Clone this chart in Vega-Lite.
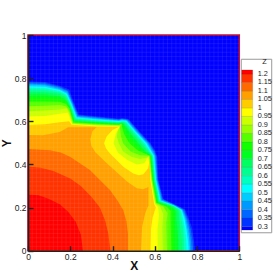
{"$schema":"https://vega.github.io/schema/vega-lite/v6.json","width":211.3,"height":215.7,"autosize":{"type":"none"},"padding":{"left":28,"top":35,"right":37.7,"bottom":21.3},"background":"white","view":{"fill":"#0000ff","stroke":"#c8102e","strokeWidth":1.5},"config":{"font":"Liberation Sans"},
"datasets":{"contour":[
{"z":0.3,"x":0,"y":0},{"z":0.3,"x":0,"y":0.785},{"z":0.3,"x":0.08,"y":0.782},{"z":0.3,"x":0.15,"y":0.765},{"z":0.3,"x":0.195,"y":0.747},{"z":0.3,"x":0.215,"y":0.69},{"z":0.3,"x":0.24,"y":0.632},{"z":0.3,"x":0.33,"y":0.622},{"z":0.3,"x":0.43,"y":0.612},{"z":0.3,"x":0.445,"y":0.615},{"z":0.3,"x":0.475,"y":0.61},{"z":0.3,"x":0.53,"y":0.55},{"z":0.3,"x":0.58,"y":0.498},{"z":0.3,"x":0.6,"y":0.467},{"z":0.3,"x":0.612,"y":0.436},{"z":0.3,"x":0.617,"y":0.328},{"z":0.3,"x":0.64,"y":0.24},{"z":0.3,"x":0.69,"y":0.217},{"z":0.3,"x":0.743,"y":0.192},{"z":0.3,"x":0.76,"y":0.15},{"z":0.3,"x":0.775,"y":0.11},{"z":0.3,"x":0.785,"y":0.05},{"z":0.3,"x":0.79,"y":0},
{"z":0.35,"x":0,"y":0},{"z":0.35,"x":0,"y":0.78},{"z":0.35,"x":0.08,"y":0.777},{"z":0.35,"x":0.15,"y":0.76},{"z":0.35,"x":0.19,"y":0.742},{"z":0.35,"x":0.212,"y":0.688},{"z":0.35,"x":0.238,"y":0.628},{"z":0.35,"x":0.33,"y":0.619},{"z":0.35,"x":0.43,"y":0.609},{"z":0.35,"x":0.445,"y":0.612},{"z":0.35,"x":0.473,"y":0.608},{"z":0.35,"x":0.525,"y":0.55},{"z":0.35,"x":0.575,"y":0.498},{"z":0.35,"x":0.598,"y":0.462},{"z":0.35,"x":0.608,"y":0.436},{"z":0.35,"x":0.614,"y":0.328},{"z":0.35,"x":0.637,"y":0.238},{"z":0.35,"x":0.69,"y":0.215},{"z":0.35,"x":0.738,"y":0.191},{"z":0.35,"x":0.755,"y":0.15},{"z":0.35,"x":0.77,"y":0.1},{"z":0.35,"x":0.778,"y":0.05},{"z":0.35,"x":0.782,"y":0},
{"z":0.4,"x":0,"y":0},{"z":0.4,"x":0,"y":0.775},{"z":0.4,"x":0.08,"y":0.772},{"z":0.4,"x":0.15,"y":0.755},{"z":0.4,"x":0.188,"y":0.738},{"z":0.4,"x":0.21,"y":0.686},{"z":0.4,"x":0.235,"y":0.625},{"z":0.4,"x":0.33,"y":0.615},{"z":0.4,"x":0.43,"y":0.606},{"z":0.4,"x":0.445,"y":0.61},{"z":0.4,"x":0.47,"y":0.606},{"z":0.4,"x":0.52,"y":0.55},{"z":0.4,"x":0.57,"y":0.498},{"z":0.4,"x":0.595,"y":0.46},{"z":0.4,"x":0.604,"y":0.436},{"z":0.4,"x":0.612,"y":0.328},{"z":0.4,"x":0.634,"y":0.236},{"z":0.4,"x":0.69,"y":0.213},{"z":0.4,"x":0.733,"y":0.19},{"z":0.4,"x":0.75,"y":0.15},{"z":0.4,"x":0.763,"y":0.1},{"z":0.4,"x":0.771,"y":0.05},{"z":0.4,"x":0.775,"y":0},
{"z":0.45,"x":0,"y":0},{"z":0.45,"x":0,"y":0.77},{"z":0.45,"x":0.08,"y":0.767},{"z":0.45,"x":0.15,"y":0.75},{"z":0.45,"x":0.186,"y":0.732},{"z":0.45,"x":0.208,"y":0.683},{"z":0.45,"x":0.233,"y":0.621},{"z":0.45,"x":0.33,"y":0.612},{"z":0.45,"x":0.43,"y":0.604},{"z":0.45,"x":0.445,"y":0.607},{"z":0.45,"x":0.468,"y":0.604},{"z":0.45,"x":0.515,"y":0.55},{"z":0.45,"x":0.565,"y":0.498},{"z":0.45,"x":0.59,"y":0.458},{"z":0.45,"x":0.6,"y":0.44},{"z":0.45,"x":0.609,"y":0.328},{"z":0.45,"x":0.631,"y":0.234},{"z":0.45,"x":0.69,"y":0.211},{"z":0.45,"x":0.73,"y":0.19},{"z":0.45,"x":0.745,"y":0.15},{"z":0.45,"x":0.756,"y":0.1},{"z":0.45,"x":0.764,"y":0.05},{"z":0.45,"x":0.768,"y":0},
{"z":0.5,"x":0,"y":0},{"z":0.5,"x":0,"y":0.762},{"z":0.5,"x":0.08,"y":0.76},{"z":0.5,"x":0.15,"y":0.745},{"z":0.5,"x":0.184,"y":0.728},{"z":0.5,"x":0.206,"y":0.68},{"z":0.5,"x":0.23,"y":0.617},{"z":0.5,"x":0.33,"y":0.608},{"z":0.5,"x":0.43,"y":0.601},{"z":0.5,"x":0.445,"y":0.604},{"z":0.5,"x":0.465,"y":0.602},{"z":0.5,"x":0.51,"y":0.55},{"z":0.5,"x":0.56,"y":0.498},{"z":0.5,"x":0.585,"y":0.458},{"z":0.5,"x":0.596,"y":0.44},{"z":0.5,"x":0.606,"y":0.328},{"z":0.5,"x":0.627,"y":0.233},{"z":0.5,"x":0.69,"y":0.209},{"z":0.5,"x":0.727,"y":0.189},{"z":0.5,"x":0.74,"y":0.15},{"z":0.5,"x":0.75,"y":0.1},{"z":0.5,"x":0.757,"y":0.05},{"z":0.5,"x":0.76,"y":0},
{"z":0.55,"x":0,"y":0},{"z":0.55,"x":0,"y":0.755},{"z":0.55,"x":0.08,"y":0.753},{"z":0.55,"x":0.15,"y":0.74},{"z":0.55,"x":0.182,"y":0.724},{"z":0.55,"x":0.204,"y":0.677},{"z":0.55,"x":0.228,"y":0.614},{"z":0.55,"x":0.33,"y":0.605},{"z":0.55,"x":0.43,"y":0.598},{"z":0.55,"x":0.445,"y":0.601},{"z":0.55,"x":0.462,"y":0.6},{"z":0.55,"x":0.505,"y":0.55},{"z":0.55,"x":0.553,"y":0.498},{"z":0.55,"x":0.58,"y":0.458},{"z":0.55,"x":0.592,"y":0.44},{"z":0.55,"x":0.603,"y":0.328},{"z":0.55,"x":0.624,"y":0.231},{"z":0.55,"x":0.69,"y":0.208},{"z":0.55,"x":0.724,"y":0.188},{"z":0.55,"x":0.733,"y":0.15},{"z":0.55,"x":0.743,"y":0.1},{"z":0.55,"x":0.748,"y":0.05},{"z":0.55,"x":0.75,"y":0},
{"z":0.6,"x":0,"y":0},{"z":0.6,"x":0,"y":0.747},{"z":0.6,"x":0.08,"y":0.745},{"z":0.6,"x":0.15,"y":0.733},{"z":0.6,"x":0.18,"y":0.72},{"z":0.6,"x":0.202,"y":0.674},{"z":0.6,"x":0.225,"y":0.61},{"z":0.6,"x":0.33,"y":0.601},{"z":0.6,"x":0.43,"y":0.595},{"z":0.6,"x":0.445,"y":0.598},{"z":0.6,"x":0.46,"y":0.597},{"z":0.6,"x":0.5,"y":0.55},{"z":0.6,"x":0.545,"y":0.498},{"z":0.6,"x":0.575,"y":0.458},{"z":0.6,"x":0.59,"y":0.44},{"z":0.6,"x":0.601,"y":0.328},{"z":0.6,"x":0.621,"y":0.23},{"z":0.6,"x":0.69,"y":0.207},{"z":0.6,"x":0.72,"y":0.187},{"z":0.6,"x":0.725,"y":0.15},{"z":0.6,"x":0.734,"y":0.1},{"z":0.6,"x":0.738,"y":0.05},{"z":0.6,"x":0.74,"y":0},
{"z":0.65,"x":0,"y":0},{"z":0.65,"x":0,"y":0.737},{"z":0.65,"x":0.08,"y":0.735},{"z":0.65,"x":0.15,"y":0.726},{"z":0.65,"x":0.18,"y":0.71},{"z":0.65,"x":0.2,"y":0.67},{"z":0.65,"x":0.223,"y":0.607},{"z":0.65,"x":0.33,"y":0.598},{"z":0.65,"x":0.43,"y":0.592},{"z":0.65,"x":0.445,"y":0.595},{"z":0.65,"x":0.455,"y":0.592},{"z":0.65,"x":0.49,"y":0.55},{"z":0.65,"x":0.535,"y":0.498},{"z":0.65,"x":0.57,"y":0.458},{"z":0.65,"x":0.587,"y":0.44},{"z":0.65,"x":0.598,"y":0.328},{"z":0.65,"x":0.618,"y":0.228},{"z":0.65,"x":0.69,"y":0.205},{"z":0.65,"x":0.712,"y":0.185},{"z":0.65,"x":0.715,"y":0.15},{"z":0.65,"x":0.722,"y":0.1},{"z":0.65,"x":0.727,"y":0.05},{"z":0.65,"x":0.728,"y":0},
{"z":0.7,"x":0,"y":0},{"z":0.7,"x":0,"y":0.724},{"z":0.7,"x":0.08,"y":0.724},{"z":0.7,"x":0.15,"y":0.716},{"z":0.7,"x":0.18,"y":0.7},{"z":0.7,"x":0.198,"y":0.667},{"z":0.7,"x":0.22,"y":0.603},{"z":0.7,"x":0.33,"y":0.595},{"z":0.7,"x":0.43,"y":0.59},{"z":0.7,"x":0.445,"y":0.592},{"z":0.7,"x":0.455,"y":0.585},{"z":0.7,"x":0.48,"y":0.55},{"z":0.7,"x":0.522,"y":0.498},{"z":0.7,"x":0.555,"y":0.46},{"z":0.7,"x":0.584,"y":0.44},{"z":0.7,"x":0.595,"y":0.328},{"z":0.7,"x":0.615,"y":0.226},{"z":0.7,"x":0.68,"y":0.204},{"z":0.7,"x":0.702,"y":0.183},{"z":0.7,"x":0.702,"y":0.15},{"z":0.7,"x":0.707,"y":0.1},{"z":0.7,"x":0.711,"y":0.05},{"z":0.7,"x":0.712,"y":0},
{"z":0.75,"x":0,"y":0},{"z":0.75,"x":0,"y":0.71},{"z":0.75,"x":0.08,"y":0.71},{"z":0.75,"x":0.15,"y":0.705},{"z":0.75,"x":0.18,"y":0.69},{"z":0.75,"x":0.197,"y":0.664},{"z":0.75,"x":0.218,"y":0.599},{"z":0.75,"x":0.33,"y":0.591},{"z":0.75,"x":0.43,"y":0.587},{"z":0.75,"x":0.445,"y":0.59},{"z":0.75,"x":0.45,"y":0.58},{"z":0.75,"x":0.47,"y":0.54},{"z":0.75,"x":0.505,"y":0.498},{"z":0.75,"x":0.54,"y":0.465},{"z":0.75,"x":0.58,"y":0.44},{"z":0.75,"x":0.592,"y":0.328},{"z":0.75,"x":0.612,"y":0.224},{"z":0.75,"x":0.67,"y":0.203},{"z":0.75,"x":0.69,"y":0.18},{"z":0.75,"x":0.69,"y":0.15},{"z":0.75,"x":0.692,"y":0.1},{"z":0.75,"x":0.694,"y":0.05},{"z":0.75,"x":0.695,"y":0},
{"z":0.8,"x":0,"y":0},{"z":0.8,"x":0,"y":0.692},{"z":0.8,"x":0.08,"y":0.692},{"z":0.8,"x":0.15,"y":0.69},{"z":0.8,"x":0.18,"y":0.68},{"z":0.8,"x":0.196,"y":0.66},{"z":0.8,"x":0.215,"y":0.596},{"z":0.8,"x":0.33,"y":0.588},{"z":0.8,"x":0.43,"y":0.584},{"z":0.8,"x":0.445,"y":0.588},{"z":0.8,"x":0.445,"y":0.575},{"z":0.8,"x":0.455,"y":0.54},{"z":0.8,"x":0.48,"y":0.498},{"z":0.8,"x":0.52,"y":0.465},{"z":0.8,"x":0.577,"y":0.44},{"z":0.8,"x":0.589,"y":0.328},{"z":0.8,"x":0.608,"y":0.222},{"z":0.8,"x":0.655,"y":0.205},{"z":0.8,"x":0.675,"y":0.185},{"z":0.8,"x":0.675,"y":0.14},{"z":0.8,"x":0.676,"y":0.1},{"z":0.8,"x":0.678,"y":0},
{"z":0.85,"x":0,"y":0},{"z":0.85,"x":0,"y":0.67},{"z":0.85,"x":0.08,"y":0.672},{"z":0.85,"x":0.15,"y":0.675},{"z":0.85,"x":0.18,"y":0.67},{"z":0.85,"x":0.195,"y":0.65},{"z":0.85,"x":0.213,"y":0.592},{"z":0.85,"x":0.33,"y":0.585},{"z":0.85,"x":0.43,"y":0.582},{"z":0.85,"x":0.44,"y":0.586},{"z":0.85,"x":0.435,"y":0.57},{"z":0.85,"x":0.44,"y":0.53},{"z":0.85,"x":0.45,"y":0.498},{"z":0.85,"x":0.485,"y":0.46},{"z":0.85,"x":0.53,"y":0.442},{"z":0.85,"x":0.574,"y":0.44},{"z":0.85,"x":0.587,"y":0.328},{"z":0.85,"x":0.606,"y":0.221},{"z":0.85,"x":0.64,"y":0.205},{"z":0.85,"x":0.66,"y":0.175},{"z":0.85,"x":0.655,"y":0.13},{"z":0.85,"x":0.656,"y":0.08},{"z":0.85,"x":0.658,"y":0},
{"z":0.9,"x":0,"y":0},{"z":0.9,"x":0,"y":0.647},{"z":0.9,"x":0.08,"y":0.65},{"z":0.9,"x":0.15,"y":0.655},{"z":0.9,"x":0.183,"y":0.66},{"z":0.9,"x":0.195,"y":0.64},{"z":0.9,"x":0.211,"y":0.589},{"z":0.9,"x":0.33,"y":0.582},{"z":0.9,"x":0.435,"y":0.58},{"z":0.9,"x":0.425,"y":0.56},{"z":0.9,"x":0.42,"y":0.53},{"z":0.9,"x":0.43,"y":0.498},{"z":0.9,"x":0.45,"y":0.46},{"z":0.9,"x":0.49,"y":0.435},{"z":0.9,"x":0.53,"y":0.425},{"z":0.9,"x":0.56,"y":0.43},{"z":0.9,"x":0.572,"y":0.44},{"z":0.9,"x":0.584,"y":0.328},{"z":0.9,"x":0.603,"y":0.22},{"z":0.9,"x":0.625,"y":0.205},{"z":0.9,"x":0.64,"y":0.17},{"z":0.9,"x":0.636,"y":0.11},{"z":0.9,"x":0.637,"y":0.05},{"z":0.9,"x":0.638,"y":0},
{"z":0.95,"x":0,"y":0},{"z":0.95,"x":0,"y":0.622},{"z":0.95,"x":0.08,"y":0.625},{"z":0.95,"x":0.15,"y":0.635},{"z":0.95,"x":0.188,"y":0.64},{"z":0.95,"x":0.196,"y":0.625},{"z":0.95,"x":0.209,"y":0.586},{"z":0.95,"x":0.33,"y":0.579},{"z":0.95,"x":0.435,"y":0.577},{"z":0.95,"x":0.415,"y":0.54},{"z":0.95,"x":0.405,"y":0.498},{"z":0.95,"x":0.425,"y":0.455},{"z":0.95,"x":0.47,"y":0.42},{"z":0.95,"x":0.515,"y":0.4},{"z":0.95,"x":0.55,"y":0.405},{"z":0.95,"x":0.57,"y":0.435},{"z":0.95,"x":0.582,"y":0.328},{"z":0.95,"x":0.6,"y":0.218},{"z":0.95,"x":0.615,"y":0.203},{"z":0.95,"x":0.62,"y":0.165},{"z":0.95,"x":0.613,"y":0.1},{"z":0.95,"x":0.614,"y":0},
{"z":1,"x":0,"y":0},{"z":1,"x":0,"y":0.583},{"z":1,"x":0.08,"y":0.586},{"z":1,"x":0.15,"y":0.595},{"z":1,"x":0.195,"y":0.6},{"z":1,"x":0.206,"y":0.584},{"z":1,"x":0.33,"y":0.576},{"z":1,"x":0.43,"y":0.575},{"z":1,"x":0.4,"y":0.56},{"z":1,"x":0.372,"y":0.53},{"z":1,"x":0.36,"y":0.498},{"z":1,"x":0.37,"y":0.473},{"z":1,"x":0.388,"y":0.451},{"z":1,"x":0.451,"y":0.389},{"z":1,"x":0.498,"y":0.358},{"z":1,"x":0.525,"y":0.35},{"z":1,"x":0.546,"y":0.355},{"z":1,"x":0.569,"y":0.382},{"z":1,"x":0.575,"y":0.42},{"z":1,"x":0.579,"y":0.328},{"z":1,"x":0.597,"y":0.216},{"z":1,"x":0.605,"y":0.2},{"z":1,"x":0.59,"y":0.155},{"z":1,"x":0.582,"y":0.1},{"z":1,"x":0.58,"y":0},
{"z":1.05,"x":0,"y":0},{"z":1.05,"x":0,"y":0.536},{"z":1.05,"x":0.07,"y":0.535},{"z":1.05,"x":0.15,"y":0.55},{"z":1.05,"x":0.19,"y":0.572},{"z":1.05,"x":0.325,"y":0.572},{"z":1.05,"x":0.305,"y":0.555},{"z":1.05,"x":0.295,"y":0.515},{"z":1.05,"x":0.3,"y":0.485},{"z":1.05,"x":0.32,"y":0.455},{"z":1.05,"x":0.373,"y":0.406},{"z":1.05,"x":0.47,"y":0.32},{"z":1.05,"x":0.515,"y":0.29},{"z":1.05,"x":0.545,"y":0.285},{"z":1.05,"x":0.57,"y":0.295},{"z":1.05,"x":0.57,"y":0.21},{"z":1.05,"x":0.555,"y":0.175},{"z":1.05,"x":0.54,"y":0.11},{"z":1.05,"x":0.535,"y":0},
{"z":1.1,"x":0,"y":0},{"z":1.1,"x":0,"y":0.472},{"z":1.1,"x":0.104,"y":0.466},{"z":1.1,"x":0.155,"y":0.455},{"z":1.1,"x":0.199,"y":0.436},{"z":1.1,"x":0.293,"y":0.374},{"z":1.1,"x":0.388,"y":0.281},{"z":1.1,"x":0.425,"y":0.23},{"z":1.1,"x":0.451,"y":0.188},{"z":1.1,"x":0.466,"y":0.135},{"z":1.1,"x":0.473,"y":0.08},{"z":1.1,"x":0.473,"y":0},
{"z":1.15,"x":0,"y":0},{"z":1.15,"x":0,"y":0.39},{"z":1.15,"x":0.06,"y":0.385},{"z":1.15,"x":0.12,"y":0.37},{"z":1.15,"x":0.2,"y":0.335},{"z":1.15,"x":0.25,"y":0.3},{"z":1.15,"x":0.3,"y":0.25},{"z":1.15,"x":0.34,"y":0.2},{"z":1.15,"x":0.365,"y":0.14},{"z":1.15,"x":0.38,"y":0.08},{"z":1.15,"x":0.39,"y":0},
{"z":1.2,"x":0,"y":0},{"z":1.2,"x":0,"y":0.26},{"z":1.2,"x":0.05,"y":0.257},{"z":1.2,"x":0.1,"y":0.24},{"z":1.2,"x":0.15,"y":0.215},{"z":1.2,"x":0.19,"y":0.18},{"z":1.2,"x":0.225,"y":0.135},{"z":1.2,"x":0.25,"y":0.075},{"z":1.2,"x":0.26,"y":0}
],
"bands":[{"lo":0.279,"hi":0.3},{"lo":0.3,"hi":0.35},{"lo":0.35,"hi":0.4},{"lo":0.4,"hi":0.45},{"lo":0.45,"hi":0.5},{"lo":0.5,"hi":0.55},{"lo":0.55,"hi":0.6},{"lo":0.6,"hi":0.65},{"lo":0.65,"hi":0.7},{"lo":0.7,"hi":0.75},{"lo":0.75,"hi":0.8},{"lo":0.8,"hi":0.85},{"lo":0.85,"hi":0.9},{"lo":0.9,"hi":0.95},{"lo":0.95,"hi":1},{"lo":1,"hi":1.05},{"lo":1.05,"hi":1.1},{"lo":1.1,"hi":1.15},{"lo":1.15,"hi":1.2},{"lo":1.2,"hi":1.224}],
"labels":[{"z":1.2},{"z":1.15},{"z":1.1},{"z":1.05},{"z":1},{"z":0.95},{"z":0.9},{"z":0.85},{"z":0.8},{"z":0.75},{"z":0.7},{"z":0.65},{"z":0.6},{"z":0.55},{"z":0.5},{"z":0.45},{"z":0.4},{"z":0.35},{"z":0.3}],
"mesh":[{"g":0.02},{"g":0.04},{"g":0.06},{"g":0.08},{"g":0.1},{"g":0.12},{"g":0.14},{"g":0.16},{"g":0.18},{"g":0.2},{"g":0.22},{"g":0.24},{"g":0.26},{"g":0.28},{"g":0.3},{"g":0.32},{"g":0.34},{"g":0.36},{"g":0.38},{"g":0.4},{"g":0.42},{"g":0.44},{"g":0.46},{"g":0.48},{"g":0.5},{"g":0.52},{"g":0.54},{"g":0.56},{"g":0.58},{"g":0.6},{"g":0.62},{"g":0.64},{"g":0.66},{"g":0.68},{"g":0.7},{"g":0.72},{"g":0.74},{"g":0.76},{"g":0.78},{"g":0.8},{"g":0.82},{"g":0.84},{"g":0.86},{"g":0.88},{"g":0.9},{"g":0.92},{"g":0.94},{"g":0.96},{"g":0.98}]},
"resolve":{"scale":{"x":"independent","y":"independent","fill":"independent"},"axis":{"x":"independent","y":"independent"}},
"layer":[
{"layer":[
{"data":{"name":"contour"},"mark":{"type":"line","filled":true,"strokeWidth":0,"interpolate":"linear"},
"encoding":{"order":{"value":null},
"x":{"field":"x","type":"quantitative","scale":{"domain":[0,1],"nice":false,"zero":false},"axis":{"zindex":1,"title":"X","values":[0,0.05,0.1,0.15,0.2,0.25,0.3,0.35,0.4,0.45,0.5,0.55,0.6,0.65,0.7,0.75,0.8,0.85,0.9,0.95,1],"labelExpr":"round(datum.value*100)%20===0?format(datum.value,'~g'):''","labelOverlap":false,"labelFlush":false,"labelFontSize":8.5,"labelColor":"#222","labelPadding":7,"grid":false,"domainColor":"#222","domainWidth":1.6,"tickColor":"#222","tickSize":{"condition":{"test":"round(datum.value*100)%20===0","value":-5},"value":-2.5},"tickWidth":{"condition":{"test":"round(datum.value*100)%20===0","value":1.4},"value":0.8},"titleFontSize":12,"titleFontWeight":"bold","titleColor":"#111","titleY":9.5}},
"y":{"field":"y","type":"quantitative","scale":{"domain":[0,1],"nice":false,"zero":false},"axis":{"zindex":1,"title":"Y","values":[0,0.05,0.1,0.15,0.2,0.25,0.3,0.35,0.4,0.45,0.5,0.55,0.6,0.65,0.7,0.75,0.8,0.85,0.9,0.95,1],"labelExpr":"round(datum.value*100)%20===0?format(datum.value,'~g'):''","labelOverlap":false,"labelFlush":false,"labelFontSize":8.5,"labelColor":"#222","labelPadding":7,"grid":false,"domainColor":"#222","domainWidth":1.6,"tickColor":"#222","tickSize":{"condition":{"test":"round(datum.value*100)%20===0","value":-5},"value":-2.5},"tickWidth":{"condition":{"test":"round(datum.value*100)%20===0","value":1.4},"value":0.8},"titleFontSize":12,"titleFontWeight":"bold","titleColor":"#111","titleX":-15}},
"fill":{"field":"z","type":"ordinal","legend":null,"scale":{"domain":[0.3,0.35,0.4,0.45,0.5,0.55,0.6,0.65,0.7,0.75,0.8,0.85,0.9,0.95,1,1.05,1.1,1.15,1.2],"range":["#0033ff","#0066ff","#0099ff","#00ccff","#00ffff","#00ffc0","#00ff90","#00ff60","#00ff20","#11ff00","#55ff00","#99ff00","#ccff00","#ffff00","#ffcc00","#ffa000","#ff6a00","#ff3300","#ff0000"]}}}},
{"data":{"name":"mesh"},"mark":{"type":"rule","stroke":"white","strokeOpacity":0.07,"strokeWidth":1},"encoding":{"x":{"field":"g","type":"quantitative"}}},
{"data":{"name":"mesh"},"mark":{"type":"rule","stroke":"white","strokeOpacity":0.07,"strokeWidth":1},"encoding":{"y":{"field":"g","type":"quantitative"}}}
]},
{"layer":[
{"data":{"values":[{"box":"legend"}]},"mark":{"type":"rect","fill":"white","stroke":"#999","strokeWidth":1},"encoding":{
"x":{"datum":-0.04,"type":"quantitative","axis":null,"scale":{"domain":[0,1],"range":[213.7,224.7],"nice":false,"zero":false}},"x2":{"datum":2.73},
"y":{"datum":0.263,"type":"quantitative","axis":null,"scale":{"domain":[0.3,1.2],"range":[191.5,39],"nice":false,"zero":false}},"y2":{"datum":1.287}}},
{"data":{"name":"bands"},"mark":{"type":"rect","stroke":"#000","strokeOpacity":0.2,"strokeWidth":0.5},"encoding":{
"x":{"datum":0,"type":"quantitative","axis":null,"scale":{"domain":[0,1],"range":[213.7,224.7],"nice":false,"zero":false}},"x2":{"datum":1},
"y":{"field":"lo","type":"quantitative","axis":null,"scale":{"domain":[0.3,1.2],"range":[191.5,39],"nice":false,"zero":false}},"y2":{"field":"hi"},
"fill":{"field":"lo","type":"ordinal","legend":null,"scale":{"domain":[0.279,0.3,0.35,0.4,0.45,0.5,0.55,0.6,0.65,0.7,0.75,0.8,0.85,0.9,0.95,1,1.05,1.1,1.15,1.2],"range":["#0000ff","#0033ff","#0066ff","#0099ff","#00ccff","#00ffff","#00ffc0","#00ff90","#00ff60","#00ff20","#11ff00","#55ff00","#99ff00","#ccff00","#ffff00","#ffcc00","#ffa000","#ff6a00","#ff3300","#ff0000"]}}}},
{"data":{"name":"labels"},"mark":{"type":"text","align":"left","baseline":"middle","fontSize":7.3,"color":"#222"},"encoding":{
"x":{"datum":1.45,"type":"quantitative","axis":null,"scale":{"domain":[0,1],"range":[213.7,224.7],"nice":false,"zero":false}},
"y":{"field":"z","type":"quantitative","axis":null,"scale":{"domain":[0.3,1.2],"range":[191.5,39],"nice":false,"zero":false}},
"text":{"field":"z","type":"quantitative","format":".3~f"}}},
{"data":{"values":[{"box":"legend"}]},"mark":{"type":"text","align":"center","baseline":"middle","fontSize":7.3,"color":"#222","text":"Z"},"encoding":{
"x":{"datum":2.06,"type":"quantitative","axis":null,"scale":{"domain":[0,1],"range":[213.7,224.7],"nice":false,"zero":false}},
"y":{"datum":1.271,"type":"quantitative","axis":null,"scale":{"domain":[0.3,1.2],"range":[191.5,39],"nice":false,"zero":false}}}}
]}
]}
